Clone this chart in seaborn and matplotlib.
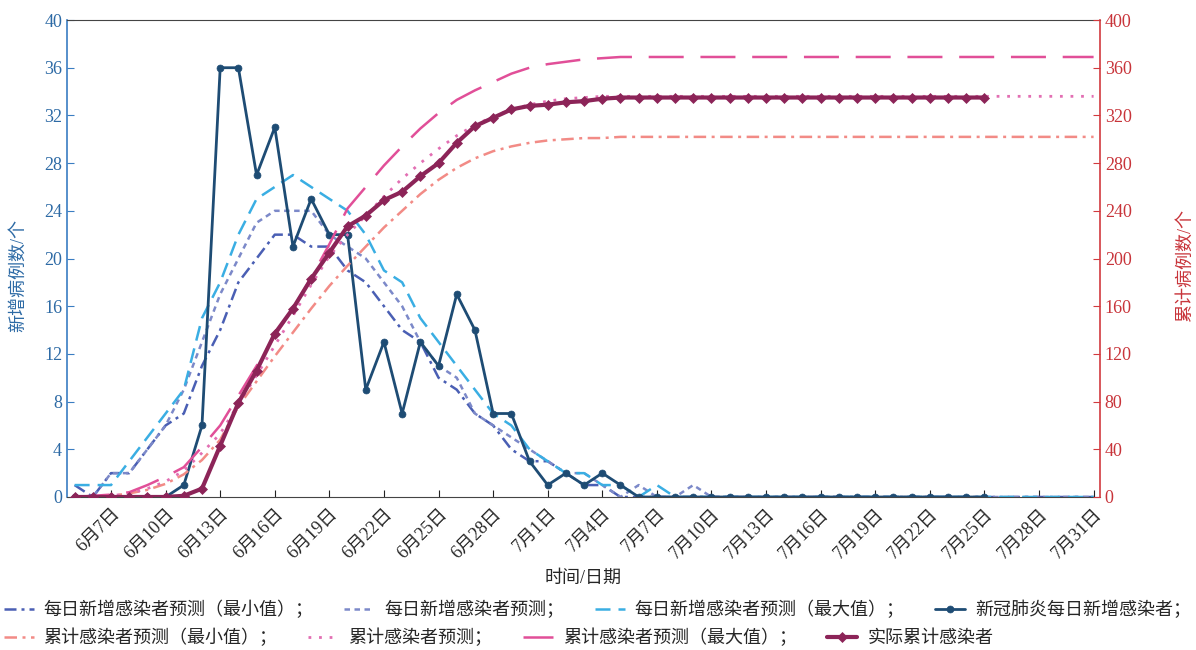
import numpy as np
import pandas as pd
import matplotlib
matplotlib.use("Agg")
import matplotlib.pyplot as plt
import seaborn as sns

# day index 0 = 6月5日 ... 56 = 7月31日
dates = [f"6月{d}日" for d in range(5, 31)] + [f"7月{d}日" for d in range(1, 32)]
idx = np.arange(len(dates))

# daily new cases (left axis)
daily_min = [1, 0, 2, 2, 4, 6, 7, 11, 14, 18, 20, 22, 22, 21, 21, 19, 18, 16, 14, 13,
             10, 9, 7, 6, 4, 3, 3, 2, 1, 1, 0] + [0] * 26
daily_mid = [0, 0, 2, 2, 4, 6, 9, 13, 17, 20, 23, 24, 24, 24, 22, 21, 20, 18, 16, 13,
             11, 10, 7, 6, 5, 4, 3, 2, 2, 1, 0, 1, 0, 0, 1] + [0] * 22
daily_max = [1, 1, 1, 3, 5, 7, 9, 15, 18, 22, 25, 26, 27, 26, 25, 24, 22, 19, 18, 15,
             13, 11, 9, 7, 6, 4, 3, 2, 2, 1, 1, 0, 1] + [0] * 24
daily_actual = [0, 0, 0, 0, 0, 0, 1, 6, 36, 36, 27, 31, 21, 25, 22, 22, 9, 13, 7, 13,
                11, 17, 14, 7, 7, 3, 1, 2, 1, 2, 1] + [0] * 20

# cumulative cases (right axis)
cum_min = [0, 0, 1, 3, 6, 11, 19, 31, 48, 76, 97, 118, 138, 158, 177, 194, 210, 226, 240, 254,
           266, 276, 284, 290, 294, 297, 299, 300, 301, 301] + [302] * 27
cum_mid = [0, 0, 1, 3, 7, 13, 22, 37, 53, 78, 102, 127, 152, 178, 202, 220, 236, 252, 267, 280,
           292, 303, 312, 319, 325, 329, 332, 334, 335] + [336] * 28
cum_max = [0, 1, 2, 4, 10, 17, 25, 42, 60, 85, 110, 135, 158, 184, 212, 242, 260, 278, 294, 309,
           322, 333, 341, 348, 355, 360, 363, 365, 367, 368] + [369] * 27
cum_actual = [0, 0, 0, 0, 0, 0, 1, 7, 43, 79, 106, 137, 158, 183, 205, 227, 236, 249, 256, 269,
              280, 297, 311, 318, 325, 328, 329, 331, 332, 334] + [335] * 21

labels = ["每日新增感染者预测（最小值）；", "每日新增感染者预测；", "每日新增感染者预测（最大值）；",
          "新冠肺炎每日新增感染者；", "累计感染者预测（最小值）；", "累计感染者预测；",
          "累计感染者预测（最大值）；", "实际累计感染者"]

sns.set_style("ticks")
plt.rcParams['font.family'] = ['Liberation Serif', 'Noto Sans CJK SC']
plt.rcParams['axes.unicode_minus'] = False

fig = plt.figure(figsize=(11.96, 6.5), dpi=100)
ax = fig.add_axes([0.056, 0.2354, 0.8637, 0.7338])
ax2 = ax.twinx()


def draw(axis, y, color, ls, lw, label, marker=None, ms=0):
    sns.lineplot(x=idx[:len(y)], y=y, ax=axis, color=color, linestyle=ls, linewidth=lw,
                 marker=marker, markersize=ms, markeredgecolor=color, markeredgewidth=0.5,
                 label=label, legend=False)
    return axis.lines[-1]


h = []
h.append(draw(ax, daily_min, '#4a5fb4', (0, (4.8, 2, 1.2, 2)), 1.8, labels[0]))
h.append(draw(ax, daily_mid, '#7c89c9', (0, (2.2, 1.8)), 1.8, labels[1]))
h.append(draw(ax, daily_max, '#3aaee3', (0, (6, 3.2)), 1.8, labels[2]))
h.append(draw(ax, daily_actual, '#1e4c74', '-', 2.0, labels[3], marker='o', ms=5))
h.append(draw(ax2, cum_min, '#f28b86', (0, (5, 2.2, 1.2, 2.2)), 1.8, labels[4]))
h.append(draw(ax2, cum_mid, '#e26fb3', (0, (1, 2.8)), 2.0, labels[5]))
h.append(draw(ax2, cum_max, '#e14f98', (0, (14, 6.7)), 1.8, labels[6]))
h.append(draw(ax2, cum_actual, '#8c2458', '-', 3.0, labels[7], marker='D', ms=5))

blue = '#3a7dc2'
red = '#d23a3e'
ax.set_xlim(-0.42, 56.35)
ax.set_ylim(0, 40)
ax2.set_ylim(0, 400)
ax.set_yticks(range(0, 41, 4))
ax2.set_yticks(range(0, 401, 40))
ax.set_xticks(idx[2::3])
ax.set_xticklabels([dates[i] for i in idx[2::3]], rotation=45, ha='right',
                   rotation_mode='anchor', fontsize=13)

ax.tick_params(axis='y', direction='in', length=5, colors=blue, labelcolor='#2d6aa5', labelsize=13)
ax2.tick_params(axis='y', direction='in', length=5, colors=red, labelcolor='#c8343a', labelsize=13)
ax.tick_params(axis='x', direction='in', length=5, color='#222222', pad=6)

ax.spines['left'].set_color(blue)
ax.spines['left'].set_linewidth(1.2)
ax.spines['right'].set_visible(False)
ax2.spines['left'].set_visible(False)
ax2.spines['right'].set_color(red)
ax2.spines['right'].set_linewidth(1.2)
for s in ['top', 'bottom']:
    ax.spines[s].set_color('#444444')
    ax2.spines[s].set_visible(False)

ax.set_xlabel("时间/日期", fontsize=13, labelpad=6)
ax.set_ylabel("新增病例数/个", fontsize=13, color='#2d6aa5')
ax2.set_ylabel("累计病例数/个", fontsize=13, color='#c8343a')
ax.yaxis.set_label_coords(-0.039, 0.465)
ax2.yaxis.set_label_coords(1.074, 0.486)

leg_kw = dict(frameon=False, ncol=4, fontsize=13, handlelength=1.66, handletextpad=0.55,
              columnspacing=1.7, borderaxespad=0, borderpad=0.2, loc='center left')
fig.legend(handles=h[:4], bbox_to_anchor=(0.0, 0.0615), **leg_kw)
fig.legend(handles=h[4:], bbox_to_anchor=(0.0, 0.0185), **leg_kw)

fig.savefig("out.png", dpi=100)
